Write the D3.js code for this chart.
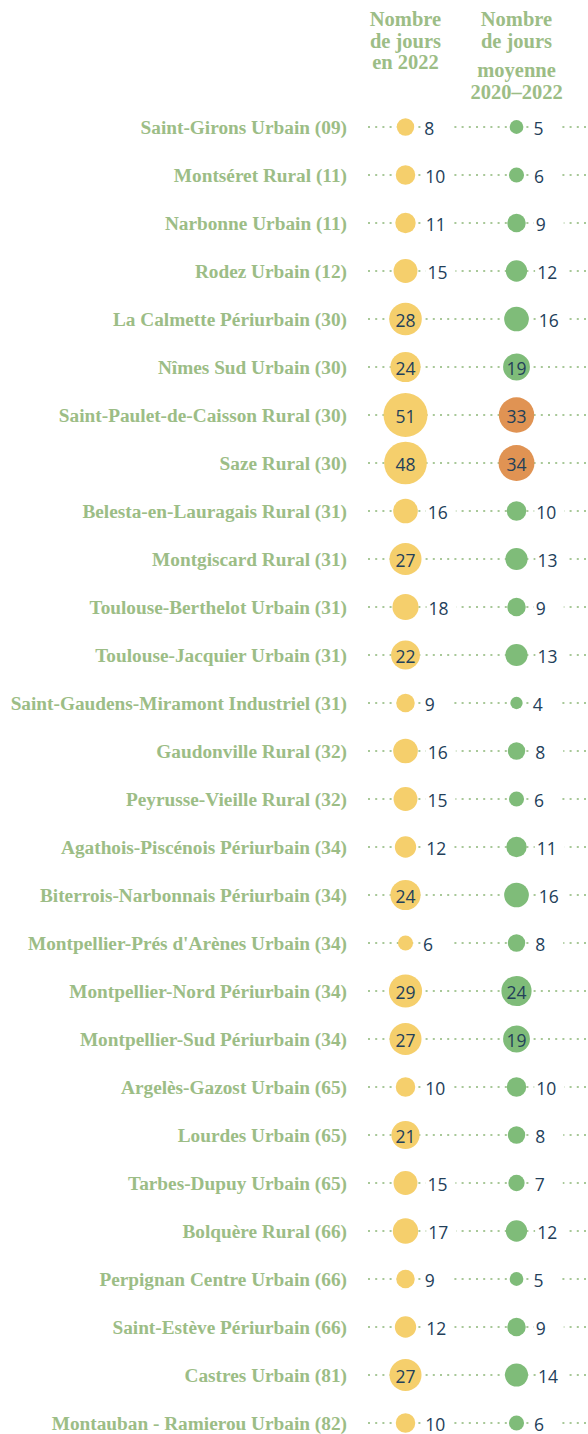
<!DOCTYPE html>
<html>
<head>
<meta charset="utf-8">
<script src="https://cdn.jsdelivr.net/npm/d3@7"></script>
<style>
  html, body { margin: 0; padding: 0; background: #fff; }
  svg { display: block; }
</style>
</head>
<body>
<svg id="chart" width="588" height="1434"></svg>
<script>
const stations = [
  "Saint-Girons Urbain (09)",
  "Montséret Rural (11)",
  "Narbonne Urbain (11)",
  "Rodez Urbain (12)",
  "La Calmette Périurbain (30)",
  "Nîmes Sud Urbain (30)",
  "Saint-Paulet-de-Caisson Rural (30)",
  "Saze Rural (30)",
  "Belesta-en-Lauragais Rural (31)",
  "Montgiscard Rural (31)",
  "Toulouse-Berthelot Urbain (31)",
  "Toulouse-Jacquier Urbain (31)",
  "Saint-Gaudens-Miramont Industriel (31)",
  "Gaudonville Rural (32)",
  "Peyrusse-Vieille Rural (32)",
  "Agathois-Piscénois Périurbain (34)",
  "Biterrois-Narbonnais Périurbain (34)",
  "Montpellier-Prés d'Arènes Urbain (34)",
  "Montpellier-Nord Périurbain (34)",
  "Montpellier-Sud Périurbain (34)",
  "Argelès-Gazost Urbain (65)",
  "Lourdes Urbain (65)",
  "Tarbes-Dupuy Urbain (65)",
  "Bolquère Rural (66)",
  "Perpignan Centre Urbain (66)",
  "Saint-Estève Périurbain (66)",
  "Castres Urbain (81)",
  "Montauban - Ramierou Urbain (82)"
];
const days2022 = [8, 10, 11, 15, 28, 24, 51, 48, 16, 27, 18, 22, 9, 16, 15, 12, 24, 6, 29, 27, 10, 21, 15, 17, 9, 12, 27, 10];
const daysAvg = [5, 6, 9, 12, 16, 19, 33, 34, 10, 13, 9, 13, 4, 8, 6, 11, 16, 8, 24, 19, 10, 8, 7, 12, 5, 9, 14, 6];
const header2022 = ["Nombre", "de jours", "en 2022"];
const headerAvg = ["Nombre", "de jours", "moyenne", "2020–2022"];

const svg = d3.select("#chart");
const W = 588;

const y = d3.scalePoint().domain(stations).range([127, 1423]);
const x = d3.scalePoint().domain(["2022", "avg"]).range([405.5, 516.5]);
const r = d3.scaleSqrt().domain([0, 51]).range([0, 22]);

const labelColor = "#9cbd86";
const numColor = "#23405a";
const yellow = "#f5cf6c";
const green = "#7fbc79";
const orange = "#e09353";
const avgColor = v => v >= 25 ? orange : green;

// headers
const headFont = "'Liberation Serif', 'Times New Roman', serif";
const hg = svg.append("g").attr("font-family", headFont).attr("font-weight", "bold")
  .attr("font-size", 20.5).attr("fill", labelColor).attr("text-anchor", "middle");
hg.selectAll("text.h1").data(header2022).join("text")
  .attr("x", x("2022")).attr("y", (d, i) => 26 + i * 21.5).text(d => d);
const avgY = [26, 47.5, 77, 99];
hg.selectAll("text.h2").data(headerAvg).join("text")
  .attr("x", x("avg")).attr("y", (d, i) => avgY[i]).text(d => d);

const rows = svg.append("g").selectAll("g").data(stations).join("g")
  .attr("transform", d => `translate(0,${y(d)})`);

// station labels
rows.append("text")
  .attr("x", 347).attr("y", 6.5)
  .attr("text-anchor", "end")
  .attr("font-family", headFont).attr("font-weight", "bold").attr("font-size", 19.3)
  .attr("fill", labelColor)
  .text(d => d);

// dotted line
rows.append("line")
  .attr("x1", 368).attr("x2", W).attr("y1", 0).attr("y2", 0)
  .attr("stroke", "#a8c898").attr("stroke-width", 2)
  .attr("stroke-dasharray", "2,5.2");

function drawSeries(vals, key, colorFn) {
  rows.each(function(d, i) {
    const g = d3.select(this);
    const v = vals[i];
    const cx = x(key), rad = r(v);
    const inside = v >= 19;
    if (!inside) {
      const tx = cx + rad + 10;
      g.append("rect").attr("x", tx - 2).attr("y", -10).attr("width", 30).attr("height", 20).attr("fill", "#fff");
    }
    g.append("circle").attr("cx", cx).attr("cy", 0).attr("r", rad).attr("fill", colorFn(v));
    g.append("text")
      .attr("x", inside ? cx : cx + rad + 10)
      .attr("y", 1)
      .attr("text-anchor", inside ? "middle" : "start")
      .attr("dominant-baseline", "central")
      .attr("font-family", "'Open Sans', 'Noto Sans', sans-serif")
      .attr("font-size", 17.5)
      .attr("fill", numColor)
      .text(v);
  });
}
drawSeries(days2022, "2022", () => yellow);
drawSeries(daysAvg, "avg", avgColor);
</script>
</body>
</html>
